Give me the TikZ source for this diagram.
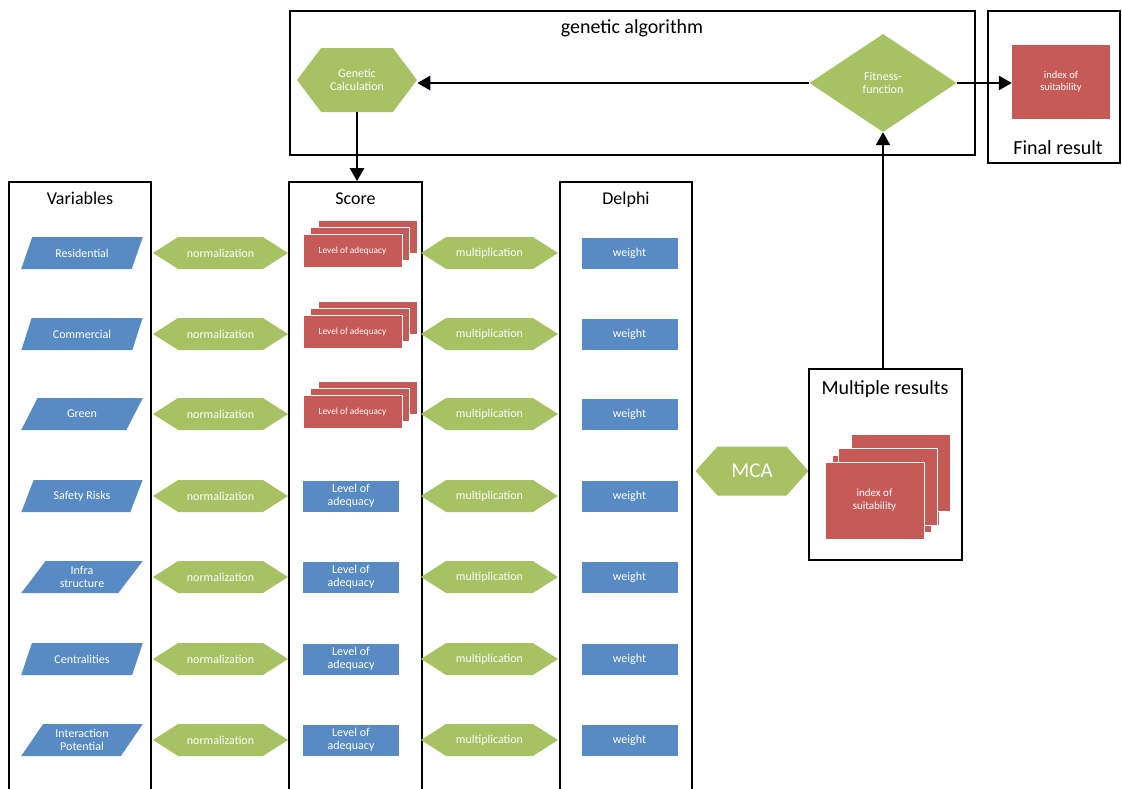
\documentclass[tikz,border=0pt]{standalone}
\usepackage{fontspec}
\setmainfont{Carlito}
\usetikzlibrary{shapes.geometric,shapes.symbols,shadows,arrows.meta}
\definecolor{hgreen}{RGB}{166,194,99}
\definecolor{hblue}{RGB}{88,139,196}
\definecolor{hred}{RGB}{197,90,87}
\begin{document}
\begin{tikzpicture}[x=1pt,y=-1pt,
 frame/.style={draw,line width=1.7pt,rectangle,inner sep=0pt},
 ttl/.style={anchor=base,font=\fontsize{18}{20}\selectfont},
 big/.style={anchor=base,font=\fontsize{20}{22}\selectfont},
 lbl/.style={text=white,font=\fontsize{12}{13}\selectfont,align=center,inner sep=0pt},
 para/.style={lbl,trapezium,trapezium left angle=55,trapezium right angle=125,trapezium stretches=true,fill=hblue,minimum width=122pt,minimum height=32pt},
 hexbase/.style={lbl,signal,signal from=nowhere,signal to=west and east,fill=hgreen},
 hexa/.style={hexbase,signal pointer angle=65,minimum width=135pt,minimum height=32pt},
 wbox/.style={lbl,rectangle,fill=hblue,draw=white,thin,minimum width=97pt,minimum height=32pt},
 stack/.style={lbl,rectangle,fill=hred,draw=white,thin,double copy shadow={shadow xshift=7.5pt,shadow yshift=7pt}},
 arr/.style={line width=2.6pt,-{Triangle[length=13pt,width=14pt]}}]
\useasboundingbox(0,0)rectangle(1122,788);
\clip(0,0)rectangle(1122,788);
%genetic algorithm
\node[frame,minimum width=685pt,minimum height=144pt](galgo)at(632.5,83){};
\node[big](galgottl)at(632,33){genetic algorithm};
\node[hexbase,signal pointer angle=106,minimum width=120pt,minimum height=64pt](gen)at(357,80){Genetic\\Calculation};
\node[lbl,diamond,fill=hgreen,minimum width=147pt,minimum height=98pt](fit)at(883,83){Fitness-\\function};
%final result
\node[frame,minimum width=132pt,minimum height=152pt](final)at(1054,87){};
\node[big](finalttl)at(1058,154){Final result};
\node[lbl,rectangle,fill=hred,minimum width=98pt,minimum height=74pt,font=\fontsize{10.5}{12}\selectfont](fin)at(1061,82){index of\\suitability};
%columns
\node[frame,minimum width=142pt,minimum height=620pt](varbox)at(80,492){};
\node[frame,minimum width=133pt,minimum height=620pt](scorebox)at(355.5,492){};
\node[frame,minimum width=132pt,minimum height=620pt](delphibox)at(626,492){};
\node[ttl](varttl)at(80,204){Variables};
\node[ttl](scorettl)at(355.5,204){Score};
\node[ttl](delphittl)at(626,204){Delphi};
\foreach \i/\y/\v in {1/253/Residential,2/334/Commercial,3/414/Green,4/496/Safety Risks,5/577/{Infra\\structure},6/659/Centralities,7/740/{Interaction\\Potential}}{
 \node[para](var\i)at(82,\y){\v};
 \node[hexa](norm\i)at(220.5,\y){normalization};
 \node[hexa,minimum width=137pt](mult\i)at(489.5,\y){multiplication};
 \node[wbox](wt\i)at(629.5,\y){weight};
}
\foreach \i/\y in {1/253,2/334,3/414}{\node[stack,minimum width=99pt,minimum height=33pt,font=\fontsize{9.3}{10}\selectfont](score\i)at(352.5,\y-2){Level of adequacy};}
\foreach \i/\y in {4/496,5/577,6/659,7/740}{\node[wbox](score\i)at(351,\y){Level of\\adequacy};}
%multiple results
\node[hexbase,signal pointer angle=96,minimum width=113pt,minimum height=49pt,font=\fontsize{21}{23}\selectfont](mca)at(752,471){MCA};
\node[frame,minimum width=153pt,minimum height=191pt](multbox)at(885.5,464.5){};
\node[big](multttl)at(885,394){Multiple results};
\node[stack,double copy shadow={shadow xshift=13pt,shadow yshift=14pt},minimum width=99pt,minimum height=77pt,font=\fontsize{11}{13}\selectfont](idx)at(874.5,500.5){index of\\suitability};
%arrows
\draw[arr](fit.west)--(fit.west-|gen.east);
\draw[arr](fit.east)--(fit.east-|fin.west);
\draw[arr](gen.south)--(gen.south|-scorebox.north);
\draw[arr](multbox.north-|fit.south)--(fit.south);
\end{tikzpicture}
\end{document}
